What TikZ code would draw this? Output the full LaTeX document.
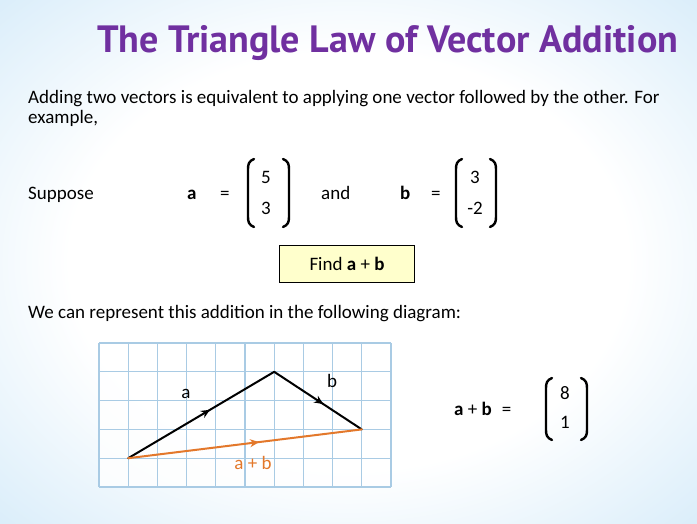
\documentclass[tikz,border=0pt]{standalone}
\usepackage{fontspec}
\setmainfont{Carlito}
\newfontfamily\titlefont{PT Sans}
\usetikzlibrary{arrows.meta,decorations.markings}
\definecolor{titlepurple}{HTML}{7030A0}
\definecolor{gridblue}{HTML}{A9CBE4}
\definecolor{sumorange}{HTML}{E3782B}
\definecolor{bgblue}{HTML}{B8DDF5}
\definecolor{boxyellow}{HTML}{FFFFCC}
\pgfdeclareradialshading{bgshade}{\pgfpoint{0bp}{0bp}}{color(0bp)=(white); color(20bp)=(white); color(50bp)=(bgblue); color(72bp)=(bgblue)}
\tikzset{
  txt/.style={font=\fontsize{19}{22}\selectfont, inner sep=0pt, anchor=base west},
  num/.style={font=\fontsize{19}{22}\selectfont, inner sep=0pt, anchor=center},
  brk/.style={line width=2.4pt, line cap=round},
  vec/.style={line width=2pt, line cap=round},
  midarrow/.style={postaction={decorate}, decoration={markings, mark=at position #1 with {\arrow{Stealth[length=9pt,width=8pt]}}}},
  lbr/.pic={\draw[brk] (6,-34) .. controls (1,-32) and (0,-29) .. (0,-24) -- (0,24) .. controls (0,29) and (1,32) .. (6,34);},
  rbr/.pic={\draw[brk] (-6,-34) .. controls (-1,-32) and (0,-29) .. (0,-24) -- (0,24) .. controls (0,29) and (-1,32) .. (-6,34);},
  slbr/.pic={\draw[brk] (6,-31) .. controls (1,-29) and (0,-26) .. (0,-21) -- (0,21) .. controls (0,26) and (1,29) .. (6,31);},
  srbr/.pic={\draw[brk] (-6,-31) .. controls (-1,-29) and (0,-26) .. (0,-21) -- (0,21) .. controls (0,26) and (-1,29) .. (-6,31);}
}
\begin{document}
\begin{tikzpicture}[x=1pt,y=-1pt]
\useasboundingbox (0,0) rectangle (697,523);
\shade[shading=bgshade] (0,0) rectangle (697,523);

% title
\node[anchor=base west, inner sep=0pt, text=titlepurple] (title) at (97,52)
  {\resizebox{581pt}{!}{\titlefont\bfseries The Triangle Law of Vector Addition}};

% intro text
\node[txt] (line1) at (28,103) {Adding two vectors is equivalent to applying one vector followed by the other. For};
\node[txt] (line2) at (28,123) {example,};

% Suppose row
\node[txt] (suppose) at (28,199) {Suppose};
\node[txt] (avar) at (187,199) {\textbf{a}};
\node[txt] (eqa) at (220,199) {=};
\pic at (248,193) {lbr};
\node[num] (a5) at (266,177) {5};
\node[num] (a3) at (266,208) {3};
\pic at (289,193) {rbr};
\node[txt] (and) at (321,199) {and};
\node[txt] (bvar) at (400,199) {\textbf{b}};
\node[txt] (eqb) at (431,199) {=};
\pic at (456,193) {lbr};
\node[num] (b3) at (475,177) {3};
\node[num] (bm2) at (475,208) {-2};
\pic at (496,193) {rbr};

% find box
\node[draw, line width=1.6pt, fill=boxyellow, minimum width=135pt, minimum height=37pt,
      font=\fontsize{19}{22}\selectfont] (find) at (347,264) {Find \textbf{a} + \textbf{b}};

\node[txt] (represent) at (28,318) {We can represent this addition in the following diagram:};

% grid
\begin{scope}[shift={(99,343)}, x=29.2pt, y=-28.8pt]
  \fill[white, opacity=0.8] (0,0) rectangle (10,5);
  \foreach \i in {0,...,10} \draw[gridblue, line width=1.2pt] (\i,0) -- (\i,5);
  \foreach \j in {0,...,5} \draw[gridblue, line width=1.2pt] (0,\j) -- (10,\j);
  \coordinate (A) at (1,4);
  \coordinate (B) at (6,1);
  \coordinate (C) at (9,3);
\end{scope}
\draw[vec, midarrow=0.56] (A) -- (B);
\draw[vec, midarrow=0.56] (B) -- (C);
\draw[vec, sumorange, midarrow=0.56] (A) -- (C);
\node[num] (lbla) at (186,394) {a};
\node[num] (lblb) at (332,381) {b};
\node[num, text=sumorange] (lblab) at (253,463) {a + b};

% result
\node[txt] (sumtxt) at (454,415) {\textbf{a} + \textbf{b}\hspace{10pt}=};
\pic at (546,409) {slbr};
\node[num] (s8) at (565,393) {8};
\node[num] (s1) at (565,422) {1};
\pic at (587,409) {srbr};
\end{tikzpicture}
\end{document}
